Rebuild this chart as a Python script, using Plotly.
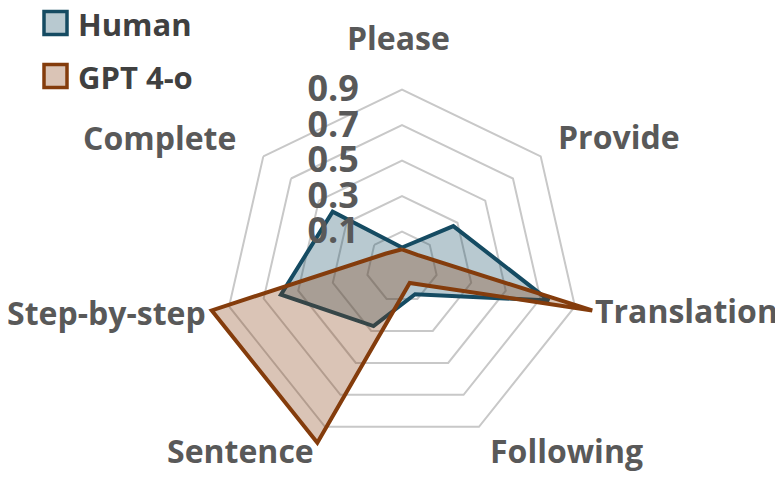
import plotly.graph_objects as go

categories = ["Please", "Provide", "Translation", "Following", "Sentence", "Step-by-step", "Complete"]
human = [0.01, 0.27, 0.75, 0.07, 0.27, 0.60, 0.40]
gpt4o = [0.0, 0.01, 1.0, 0.0, 1.0, 1.0, 0.02]
radial_ticks = [0.1, 0.3, 0.5, 0.7, 0.9]
series_names = ["Human", "GPT 4-o"]

human_line = "#154B62"
gpt_line = "#843C0C"
human_fill = "rgba(21,75,98,0.3)"
gpt_fill = "rgba(132,60,12,0.3)"
grey = "#595959"
FONT = "Open Sans"

W, H = 783, 482
OFF = 8  # page body margin in the browser
fig = go.Figure()

for name, vals, lc, fc in [(series_names[0], human, human_line, human_fill),
                           (series_names[1], gpt4o, gpt_line, gpt_fill)]:
    fig.add_trace(go.Scatterpolar(
        r=vals + vals[:1], theta=categories + categories[:1],
        mode="lines", fill="toself", fillcolor=fc,
        line=dict(color=lc, width=4), name=name, showlegend=False,
        cliponaxis=False))

# polar area: centre (402,267) on screen, 0.9 ring at 177.5px
cx, cy, rpx = 402 - OFF, 267 - OFF, 204
fig.update_layout(
    width=W, height=H,
    margin=dict(l=0, r=0, t=0, b=0),
    paper_bgcolor="white",
    font=dict(family=FONT, color=grey),
    polar=dict(
        domain=dict(x=[(cx - rpx) / W, (cx + rpx) / W],
                    y=[1 - (cy + rpx) / H, 1 - (cy - rpx) / H]),
        bgcolor="white",
        gridshape="linear",
        angularaxis=dict(rotation=90, direction="clockwise",
                         showgrid=False, showline=False, ticks="",
                         showticklabels=False),
        radialaxis=dict(range=[-0.1, 1.05], tickvals=radial_ticks,
                        ticktext=[str(t) for t in radial_ticks],
                        angle=90, tickangle=90, side="counterclockwise",
                        showline=False, gridcolor="#C8C8C8", gridwidth=1.5,
                        ticks="outside", ticklen=30, tickcolor="rgba(0,0,0,0)",
                        tickfont=dict(size=36, color=grey, family=FONT, weight="bold")),
    ),
)

# category labels placed like the original chart
label_pos = [(398, 37), (619, 137), (686, 310), (566, 450), (240, 450), (106, 312), (159, 138)]
for cat, (px, py) in zip(categories, label_pos):
    fig.add_annotation(x=(px - OFF) / W, y=1 - (py - OFF) / H, xref="paper", yref="paper",
                       text=cat, showarrow=False, xanchor="center", yanchor="middle",
                       font=dict(size=32, color=grey, family=FONT, weight="bold"))

# legend drawn as boxes + text
legend_rows = [(23, human_line, human_fill), (76, gpt_line, gpt_fill)]
for (py, lc, fc), name in zip(legend_rows, series_names):
    py -= OFF
    fig.add_shape(type="rect", xref="paper", yref="paper",
                  x0=(44 - OFF) / W, x1=(67 - OFF) / W,
                  y0=1 - (py + 11.5) / H, y1=1 - (py - 11.5) / H,
                  line=dict(color=lc, width=3.5), fillcolor=fc)
    fig.add_annotation(x=(76 - OFF) / W, y=1 - (py + 1) / H, xref="paper", yref="paper",
                       text=name, showarrow=False, xanchor="left", yanchor="middle",
                       font=dict(size=31, color="#404040", family=FONT, weight="bold"))

fig.write_html("out.html")
